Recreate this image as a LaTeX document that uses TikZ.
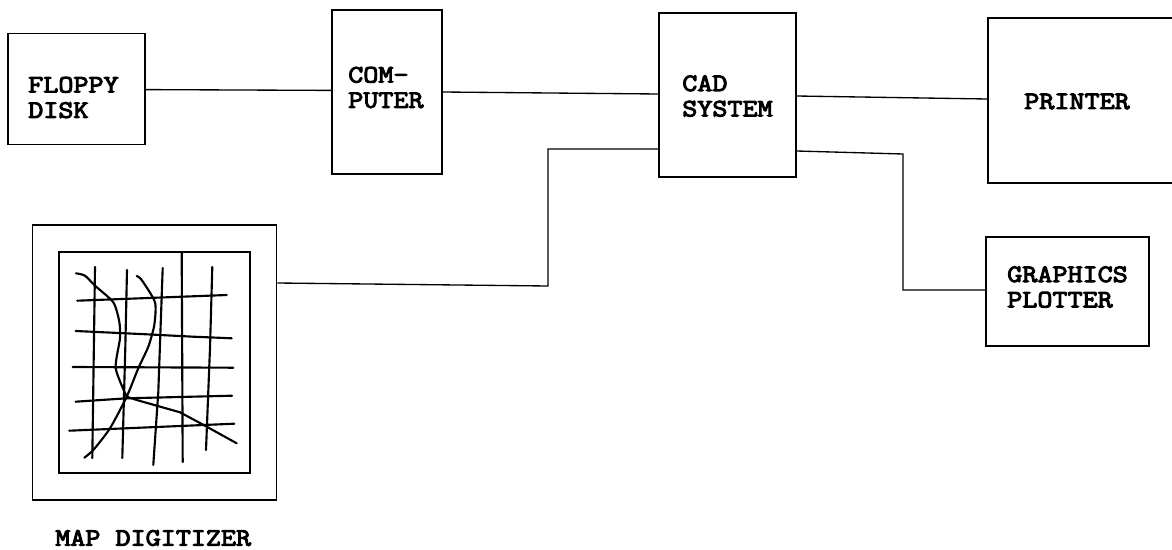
\documentclass[tikz,border=0pt]{standalone}
\usepackage{fontspec}
\newfontfamily\boxfont{Latin Modern Mono}[FakeBold=4,FakeStretch=1.17]
\usetikzlibrary{positioning}

\begin{document}
\begin{tikzpicture}[
  x=0.75pt,y=-0.75pt,
  unitbox/.style={draw,line width=1.1pt,inner sep=0pt,fill=white},
  boxtext/.style={anchor=west,align=left,inner sep=0pt,font=\fontsize{18.75}{19}\selectfont\boxfont},
  wire/.style={line width=1pt,line join=miter},
  mapline/.style={line width=1.6pt,line join=round,line cap=round},
]
  \useasboundingbox (0,0) rectangle (1172,550);

  % Units along the top row.
  \node[unitbox,minimum width=102.75pt,minimum height=83.25pt,line width=1.4pt] (floppy) at (76.5,89) {};
  \node[unitbox,minimum width=82.5pt,minimum height=123pt] (computer) at (387,92) {};
  \node[unitbox,minimum width=102.75pt,minimum height=123pt] (cad) at (727.5,95) {};
  \node[unitbox,minimum width=159pt,minimum height=123.75pt] (printer) at (1094,100.5) {};
  \node[unitbox,minimum width=122.25pt,minimum height=81.75pt] (plotter) at (1067.5,291.5) {};

  % Digitizer frame and its sheet.
  \node[unitbox,minimum width=183pt,minimum height=206.25pt,line width=1.4pt] (digitizer) at (154.5,362.5) {};
  \node[unitbox,minimum width=143.25pt,minimum height=165.75pt,line width=1.4pt] (sheet) at (154.5,362.5) {};

  \node[boxtext] (floppytext) at (28,97.5) {FLOPPY\\DISK};
  \node[boxtext] (computertext) at (348,87.5) {COM-\\PUTER};
  \node[boxtext] (cadtext) at (682,96) {CAD\\SYSTEM};
  \node[boxtext] (printertext) at (1024,101.5) {PRINTER};
  \node[boxtext] (plottertext) at (1007,287) {GRAPHICS\\PLOTTER};
  \node[boxtext] (digitizertext) at (55,538) {MAP DIGITIZER};

  % Connections between the units.
  \draw[wire] (floppy.east |- 0,89.6) -- (computer.west |- 0,90.4);
  \draw[wire] (computer.east |- 0,92) -- (cad.west |- 0,94);
  \draw[wire] (cad.east |- 0,96) -- (printer.west |- 0,99);
  \draw[wire] (digitizer.east |- 0,283) -- (548,286) -- (548,149) -- (cad.west |- 0,149);
  \draw[wire] (cad.east |- 0,151) -- (903,154) -- (903,290) -- (plotter.west |- 0,290);

  % Map on the sheet.
  \foreach \mapline in {
    {(95,267) -- (92.3,458)},
    {(127,270) -- (125.3,348) -- (122.3,458)},
    {(162.7,268) -- (158.3,392) -- (153.3,465)},
    {(181.7,252) -- (182.7,462)},
    {(212.3,267) -- (210,348) -- (206,450)},
    {(77.3,300.7) -- (226.7,295)},
    {(75.7,331) -- (146.7,334.3) -- (193.3,336.7) -- (231.7,338.3)},
    {(72.7,367) -- (233.3,367.7)},
    {(75.7,401.7) -- (126.7,398.3) -- (232,395.7)},
    {(69.3,430.7) -- (234.3,423.7)}}
    \draw[mapline] \mapline;
  \draw[mapline] plot[smooth,tension=0.4] coordinates {(76,273.3) (85,275.7) (95,285.7) (113.3,302.3) (119.3,321.7) (120,338.3) (115.7,368.3) (126.7,396.7)}
    -- (136.7,400) -- (180,412.3) -- (205,425.7) -- (236.7,443.3);
  \draw[mapline] plot[smooth,tension=0.4] coordinates {(136.7,276) (141.7,280) (155,302.3) (154.3,325) (148.3,346.7) (138.3,368.3) (126.7,396.7) (110,428.3) (93.3,450) (84.3,457.7)};
\end{tikzpicture}
\end{document}
